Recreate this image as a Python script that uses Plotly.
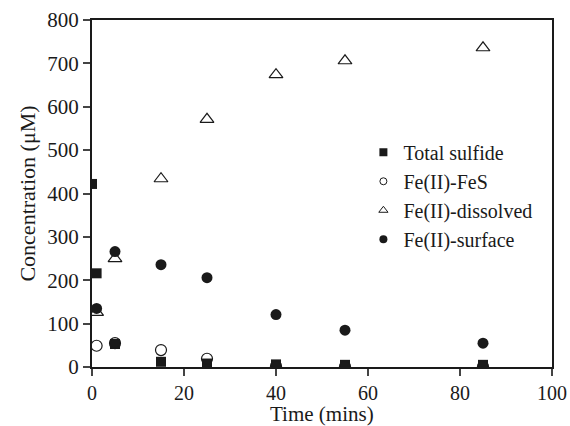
import plotly.graph_objects as go

time = [0, 1, 5, 15, 25, 40, 55, 85]
total_sulfide = [422, 216, 53, 12, 8, 6, 5, 5]
time_fe = [1, 5, 15, 25, 40, 55, 85]
fe_fes = [49, 55, 39, 19, 2, 1, 1]
fe_dissolved = [126, 250, 434, 571, 674, 706, 736]
fe_surface = [135, 266, 236, 206, 121, 85, 55]

font = "Liberation Serif"
ink = "#1a1a1a"
series = [
    ("Total sulfide", time, total_sulfide, dict(symbol="square", size=10, color=ink), dict(symbol="square", size=8, color=ink)),
    ("Fe(II)-FeS", time_fe, fe_fes, dict(symbol="circle-open", size=11, color=ink, line=dict(width=1.2)), dict(symbol="circle-open", size=7, color=ink, line=dict(width=1))),
    ("Fe(II)-dissolved", time_fe, fe_dissolved, dict(symbol="triangle-up-open", size=12, color=ink, line=dict(width=1.2)), dict(symbol="triangle-up-open", size=8, color=ink, line=dict(width=1))),
    ("Fe(II)-surface", time_fe, fe_surface, dict(symbol="circle", size=11, color=ink), dict(symbol="circle", size=8, color=ink)),
]
fig = go.Figure()
for name, xs, ys, mk, lmk in series:
    fig.add_trace(go.Scatter(x=xs, y=ys, mode="markers", name=name, marker=mk,
                             showlegend=False, legendgroup=name))
for name, xs, ys, mk, lmk in series:
    fig.add_trace(go.Scatter(x=[None], y=[None], mode="markers", name=name, marker=lmk,
                             showlegend=True, legendgroup=name))

fig.update_layout(
    width=570, height=426,
    margin=dict(l=92, r=18, t=20, b=59, autoexpand=False),
    paper_bgcolor="white", plot_bgcolor="white",
    font=dict(family=font, size=20, color=ink),
    showlegend=True,
    legend=dict(x=0.59, y=0.675, xanchor="left", yanchor="top",
                font=dict(family=font, size=20), bgcolor="rgba(0,0,0,0)",
                itemwidth=30, tracegroupgap=0),
    xaxis=dict(range=[0, 100], tickvals=[0, 20, 40, 60, 80, 100], ticks="outside",
               ticklen=7, tickwidth=1.5, showline=True, linewidth=2, linecolor=ink,
               mirror=True, showgrid=False, zeroline=False, automargin=False,
               tickfont=dict(size=20)),
    yaxis=dict(range=[0, 800], tickvals=[0, 100, 200, 300, 400, 500, 600, 700, 800], ticks="outside",
               ticklen=7, tickwidth=1.5, showline=True, linewidth=2, linecolor=ink,
               mirror=True, showgrid=False, zeroline=False, automargin=False,
               tickfont=dict(size=21),
               title=dict(text="Concentration (μM)", font=dict(size=22), standoff=6)),
    annotations=[dict(text="Time (mins)", xref="paper", yref="paper", x=0.5, y=-0.172,
                      xanchor="center", yanchor="bottom", showarrow=False,
                      font=dict(family=font, size=21, color=ink), borderpad=0)],
)
fig.write_html("out.html")
